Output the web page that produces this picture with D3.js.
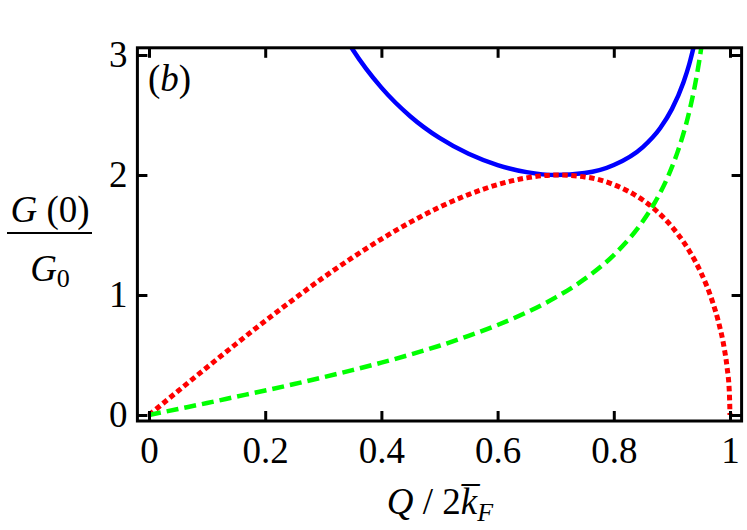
<!DOCTYPE html>
<html>
  <head>
    <meta charset="UTF-8" />
    <title>G(0)/G0 vs Q/2kF</title>
    <style>
      body {
        margin: 0;
        background: #fff;
      }
      svg {
        display: block;
      }
    </style>
  </head>
  <body>
    <svg width="747" height="530"></svg>
    <script src="https://d3js.org/d3.v7.min.js"></script>
    <script>
      // values
      const redX = [0, 0.05, 0.1, 0.15, 0.2, 0.25, 0.3, 0.35, 0.4, 0.45, 0.5, 0.55, 0.6, 0.65, 0.7, 0.75, 0.8, 0.85, 0.87, 0.9, 0.91, 0.93, 0.94, 0.95, 0.97, 0.98, 0.99, 0.995, 0.999, 1.0];
      const redY = [0, 0.2, 0.398, 0.593, 0.784, 0.968, 1.145, 1.311, 1.466, 1.607, 1.732, 1.837, 1.92, 1.976, 2.0, 1.984, 1.92, 1.791, 1.716, 1.569, 1.509, 1.367, 1.283, 1.187, 0.943, 0.78, 0.559, 0.397, 0.179, 0];

      const greenX = [0, 0.05, 0.1, 0.15, 0.2, 0.25, 0.3, 0.35, 0.4, 0.45, 0.5, 0.55, 0.6, 0.65, 0.7, 0.75, 0.8, 0.85, 0.87, 0.9, 0.91, 0.93, 0.94, 0.95, 0.955];
      const greenY = [0, 0.05, 0.1, 0.152, 0.204, 0.258, 0.315, 0.374, 0.436, 0.504, 0.577, 0.659, 0.75, 0.855, 0.98, 1.134, 1.333, 1.614, 1.765, 2.065, 2.195, 2.53, 2.755, 3.042, 3.22];

      const blueX = [0.34, 0.35, 0.4, 0.45, 0.5, 0.55, 0.6, 0.65, 0.7, 0.75, 0.8, 0.85, 0.88, 0.9, 0.92, 0.93, 0.94];
      const blueY = [3.128, 3.05, 2.728, 2.488, 2.309, 2.177, 2.083, 2.024, 2.0, 2.016, 2.083, 2.233, 2.392, 2.549, 2.773, 2.925, 3.118];

      const xTicks = [0, 0.2, 0.4, 0.6, 0.8, 1];
      const xTickLabels = ["0", "0.2", "0.4", "0.6", "0.8", "1"];
      const yTicks = [0, 1, 2, 3];

      const serif = "'Liberation Serif', 'Times New Roman', Times, 'DejaVu Serif', serif";

      const svg = d3.select("svg").attr("font-family", serif);

      const x = d3.scaleLinear().domain([-0.02, 1.02]).range([137.4, 741.6]);
      const y = d3.scaleLinear().domain([-0.05, 3.06]).range([421, 47.8]);

      const [x0, x1] = x.range();
      const [y0, y1] = y.range();

      svg
        .append("clipPath")
        .attr("id", "plot")
        .append("rect")
        .attr("x", x0)
        .attr("y", y1)
        .attr("width", x1 - x0)
        .attr("height", y0 - y1);

      const line = d3
        .line()
        .x((d) => x(d[0]))
        .y((d) => y(d[1]))
        .curve(d3.curveMonotoneX);

      const curves = svg.append("g").attr("clip-path", "url(#plot)");

      // blue solid
      curves
        .append("path")
        .datum(blueX.map((v, i) => [v, blueY[i]]))
        .attr("d", line)
        .attr("fill", "none")
        .attr("stroke", "#0000ff")
        .attr("stroke-width", 4.5);

      // red dotted
      curves
        .append("path")
        .datum(redX.map((v, i) => [v, redY[i]]))
        .attr("d", line)
        .attr("fill", "none")
        .attr("stroke", "#ff0000")
        .attr("stroke-width", 5)
        .attr("stroke-dasharray", "5.5,3.5");

      // green dashed
      curves
        .append("path")
        .datum(greenX.map((v, i) => [v, greenY[i]]))
        .attr("d", line)
        .attr("fill", "none")
        .attr("stroke", "#00ff00")
        .attr("stroke-width", 4.5)
        .attr("stroke-dasharray", "12,6");

      // frame
      svg
        .append("rect")
        .attr("x", x0)
        .attr("y", y1)
        .attr("width", x1 - x0)
        .attr("height", y0 - y1)
        .attr("fill", "none")
        .attr("stroke", "#000")
        .attr("stroke-width", 3);

      // axes with inward ticks, mirrored
      const axisStyle = (g) => {
        g.attr("font-family", serif);
        g.select(".domain").remove();
        g.selectAll(".tick line").attr("stroke", "#000").attr("stroke-width", 3);
        g.selectAll(".tick text").attr("font-family", serif).attr("font-size", 37).attr("fill", "#000");
      };

      svg
        .append("g")
        .attr("transform", `translate(0,${y0})`)
        .call(d3.axisBottom(x).tickValues(xTicks).tickSizeInner(-10).tickPadding(16).tickFormat((d, i) => xTickLabels[i]))
        .call(axisStyle)
        .selectAll(".tick text")
        .attr("dy", "0.71em");

      svg
        .append("g")
        .attr("transform", `translate(0,${y1})`)
        .call(d3.axisTop(x).tickValues(xTicks).tickSizeInner(-10).tickFormat(""))
        .call(axisStyle);

      svg
        .append("g")
        .attr("transform", `translate(${x0},0)`)
        .call(d3.axisLeft(y).tickValues(yTicks).tickSizeInner(-10).tickPadding(10).tickFormat(d3.format("d")))
        .call(axisStyle);

      svg
        .append("g")
        .attr("transform", `translate(${x1},0)`)
        .call(d3.axisRight(y).tickValues(yTicks).tickSizeInner(-10).tickFormat(""))
        .call(axisStyle);

      // panel label
      const lbl = svg.append("text").attr("x", 148).attr("y", 91).attr("font-size", 37);
      lbl.append("tspan").text("(");
      lbl.append("tspan").attr("font-style", "italic").text("b");
      lbl.append("tspan").text(")");

      // x label
      const xl = svg.append("text").attr("x", 440).attr("y", 514).attr("font-size", 37).attr("text-anchor", "middle");
      xl.append("tspan").attr("font-style", "italic").text("Q");
      xl.append("tspan").text(" / 2");
      xl.append("tspan").attr("font-style", "italic").text("k\u0305");
      xl.append("tspan").attr("font-style", "italic").attr("font-size", 26).attr("dy", 7).text("F");

      // y label as a fraction
      const yl = svg.append("g").attr("transform", "translate(50,0)");
      const num = yl.append("text").attr("y", 222).attr("font-size", 37).attr("text-anchor", "middle");
      num.append("tspan").attr("font-style", "italic").text("G");
      num.append("tspan").text(" (0)");
      yl.append("line").attr("x1", -43).attr("x2", 42).attr("y1", 233).attr("y2", 233).attr("stroke", "#000").attr("stroke-width", 2);
      const den = yl.append("text").attr("y", 281).attr("font-size", 37).attr("text-anchor", "middle");
      den.append("tspan").attr("font-style", "italic").text("G");
      den.append("tspan").attr("font-size", 26).attr("dy", 6).text("0");
    </script>
  </body>
</html>
